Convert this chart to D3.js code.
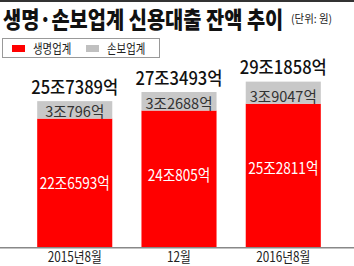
<!DOCTYPE html>
<html><head><meta charset="utf-8">
<script src="https://cdn.jsdelivr.net/npm/d3@7"></script>
<style>
html,body{margin:0;padding:0;background:#fff;}
text{font-family:"Noto Sans CJK KR","Noto Sans",sans-serif;}
</style></head>
<body>
<svg id="c" width="354" height="266"></svg>
<script>
const categories = ["2015년8월", "12월", "2016년8월"];
const lifeValues = [226593, 240805, 252811];   // 생명업계 (억원)
const nonLifeValues = [30796, 32688, 39047];   // 손보업계 (억원)
const seriesNames = ["생명업계", "손보업계"];
const titleText = "생명·손보업계 신용대출 잔액 추이";
const unitText = "(단위: 원)";

const fmt = v => { const jo = Math.floor(v / 10000), eok = v % 10000; return jo + "조" + (eok ? eok + "억" : ""); };

const W = 354, H = 266;
const svg = d3.select("#c");
const RED = "#ff0000", GRAY = "#c8c8c8";

// horizontally condense text around its anchor point
function condense(sel, f) {
  sel.each(function () {
    const t = d3.select(this);
    const tx = +t.attr("x") || 0, ty = +t.attr("y") || 0;
    t.attr("x", 0).attr("y", 0).attr("transform", `translate(${tx},${ty}) scale(${f},1)`);
  });
}

// top rule
svg.append("rect").attr("x", 0).attr("y", 0).attr("width", W).attr("height", 2).attr("fill", "#333");

// title
svg.append("text").attr("x", 3).attr("y", 28).attr("font-size", 23).attr("font-weight", 900)
  .attr("fill", "#111").text(titleText).call(condense, 0.86);
svg.append("text").attr("x", 291).attr("y", 23).attr("font-size", 11).attr("fill", "#222")
  .text(unitText).call(condense, 0.95);

// legend
const lg = svg.append("g");
lg.append("rect").attr("x", 2.5).attr("y", 38.5).attr("width", 157).attr("height", 19)
  .attr("fill", "#fff").attr("stroke", "#999");
const legItems = [{n: seriesNames[0], c: RED, x: 12}, {n: seriesNames[1], c: "#c0c0c0", x: 86}];
legItems.forEach(d => {
  lg.append("rect").attr("x", d.x).attr("y", 45).attr("width", 13).attr("height", 7).attr("fill", d.c);
  lg.append("text").attr("x", d.x + 21).attr("y", 53).attr("font-size", 13).attr("fill", "#222")
    .text(d.n).call(condense, 0.8);
});

const x = d3.scaleBand().domain(categories).range([8, 350]).paddingInner(0.28).paddingOuter(0.28);
const y = d3.scaleLinear().domain([0, 300000]).range([247, 77]);

const data = categories.map((c, i) => ({c, life: lifeValues[i], non: nonLifeValues[i], total: lifeValues[i] + nonLifeValues[i]}));

const g = svg.append("g");
g.selectAll(".life").data(data).join("rect")
  .attr("x", d => x(d.c)).attr("width", x.bandwidth())
  .attr("y", d => y(d.life)).attr("height", d => y(0) - y(d.life)).attr("fill", RED);
g.selectAll(".non").data(data).join("rect")
  .attr("x", d => x(d.c)).attr("width", x.bandwidth())
  .attr("y", d => y(d.total)).attr("height", d => y(d.life) - y(d.total)).attr("fill", GRAY);

// total labels
g.selectAll(".tot").data(data).join("text")
  .attr("x", d => x(d.c) + x.bandwidth() / 2).attr("y", d => y(d.total) - 7.5)
  .attr("text-anchor", "middle").attr("font-size", 18).attr("font-weight", 500).attr("fill", "#111")
  .text(d => fmt(d.total)).call(condense, 0.92);
// non-life labels
g.selectAll(".nonl").data(data).join("text")
  .attr("x", d => x(d.c) + x.bandwidth() / 2).attr("y", d => y(d.life) - 2)
  .attr("text-anchor", "middle").attr("font-size", 15).attr("fill", "#333")
  .text(d => fmt(d.non)).call(condense, 0.97);
// life labels
g.selectAll(".lifel").data(data).join("text")
  .attr("x", d => x(d.c) + x.bandwidth() / 2).attr("y", d => y(d.life) + 70)
  .attr("text-anchor", "middle").attr("font-size", 16).attr("fill", "#fff")
  .text(d => fmt(d.life)).call(condense, 0.85);

// baseline
svg.append("rect").attr("x", 0).attr("y", 247).attr("width", W).attr("height", 1.5).attr("fill", "#888");

// x axis labels
const ax = svg.append("g").attr("transform", "translate(0,248)")
  .call(d3.axisBottom(x).tickSize(0).tickPadding(0));
ax.select(".domain").remove();
ax.selectAll("text").attr("dy", null).attr("x", 0).attr("y", 13.5).attr("font-size", 14)
  .attr("font-family", "'Noto Sans CJK KR', sans-serif").attr("fill", "#222").call(condense, 0.84);
</script>
</body></html>
